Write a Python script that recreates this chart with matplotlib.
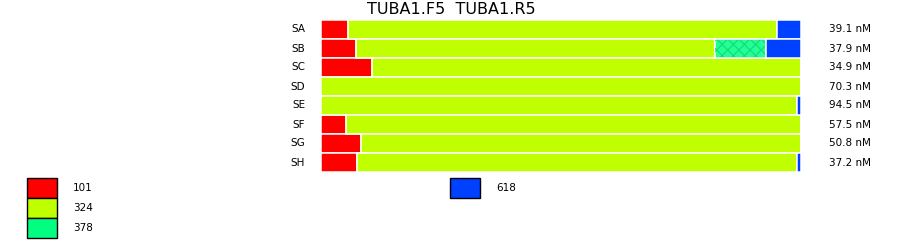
import matplotlib.pyplot as plt
import matplotlib.patches as mpatches

# samples, top to bottom
samples = ["SA", "SB", "SC", "SD", "SE", "SF", "SG", "SH"]
conc_labels = ["39.1 nM", "37.9 nM", "34.9 nM", "70.3 nM",
               "94.5 nM", "57.5 nM", "50.8 nM", "37.2 nM"]

# fragment shares (percent of each bar)
frag_101 = [5.6, 7.3, 10.6, 0.0, 0.0, 5.2, 8.3, 7.5]
frag_324 = [89.4, 74.8, 89.4, 100.0, 99.2, 94.8, 91.7, 91.7]
frag_378 = [0.0, 10.6, 0.0, 0.0, 0.0, 0.0, 0.0, 0.0]
frag_618 = [5.0, 7.3, 0.0, 0.0, 0.8, 0.0, 0.0, 0.8]

legend_names = ["101", "324", "378", "618"]
colors = ["#ff0000", "#c0ff00", "#00ff80", "#0040ff"]

title = "TUBA1.F5  TUBA1.R5"

plt.rcParams["hatch.linewidth"] = 0.8

W, H = 900, 242
fig = plt.figure(figsize=(W / 100, H / 100), dpi=100)

# bar area in pixels: x 321..801, y 20..172
ax = fig.add_axes([321 / W, 1 - 172 / H, 480 / W, 152 / H])
ax.set_xlim(0, 100)
ax.set_ylim(len(samples) - 0.5, -0.5)
ax.axis("off")

ypos = list(range(len(samples)))
left = [0.0] * len(samples)
series = [frag_101, frag_324, frag_378, frag_618]
for i, vals in enumerate(series):
    face = colors[i]
    if legend_names[i] == "378":
        face = "#22ff95"  # lighter fill under the pattern
    ax.barh(ypos, vals, left=left, height=0.97, color=face,
            edgecolor="white", linewidth=1.1)
    if legend_names[i] == "378":
        # crosshatched overlay for this fragment
        ax.barh(ypos, vals, left=left, height=0.85, color="none",
                edgecolor="#14d87a", linewidth=0, hatch="xxx")
    left = [l + v for l, v in zip(left, vals)]

for y, s, c in zip(ypos, samples, conc_labels):
    ax.text(-3.3, y, s, ha="right", va="center", fontsize=7.5)
    ax.text(105.8, y, c, ha="left", va="center", fontsize=7.5)

fig.text(451 / W, 1 - 10 / H, title, ha="center", va="center", fontsize=11.5)

# legend boxes (pixel positions)
legend_pos = [(27, 178), (27, 198), (27, 218), (450, 178)]
for name, col, (px, py) in zip(legend_names, colors, legend_pos):
    rect = mpatches.Rectangle((px / W, 1 - (py + 20) / H), 30 / W, 20 / H,
                              transform=fig.transFigure, facecolor=col,
                              edgecolor="black", linewidth=1)
    fig.add_artist(rect)
    fig.text((px + 46) / W, 1 - (py + 10) / H, name, ha="left",
             va="center", fontsize=7.5)

plt.savefig("out.png", dpi=100)
